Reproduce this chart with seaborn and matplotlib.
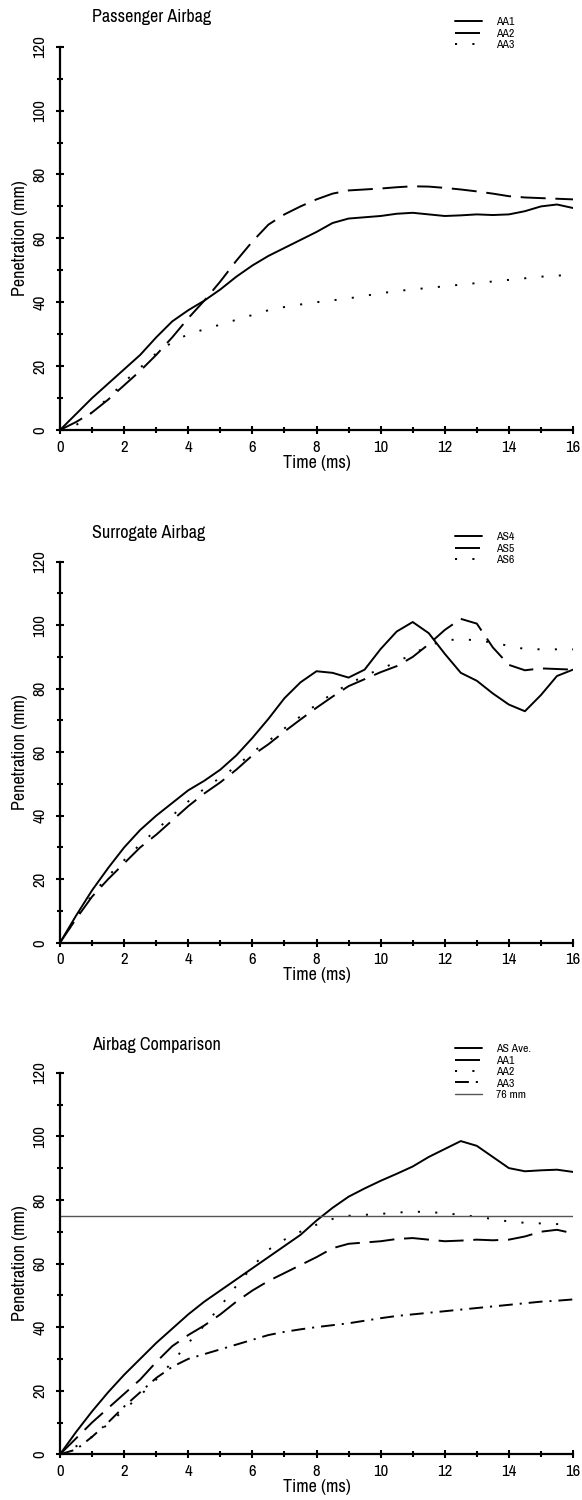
import numpy as np
import pandas as pd
import seaborn as sns
import matplotlib
matplotlib.use("Agg")
import matplotlib.pyplot as plt
from matplotlib import font_manager as fm
from matplotlib.ticker import MultipleLocator

# ---------------- data ----------------
t = [0, 0.5, 1, 1.5, 2, 2.5, 3, 3.5, 4, 4.5, 5, 5.5, 6, 6.5, 7, 7.5, 8,
     8.5, 9, 9.5, 10, 10.5, 11, 11.5, 12, 12.5, 13, 13.5, 14, 14.5, 15, 15.5, 16]

# Passenger airbag
aa1 = [0, 5, 10, 14.5, 19, 23.5, 29, 34, 37.5, 40.5, 44, 48, 51.5, 54.5, 57, 59.5, 62,
       64.8, 66.2, 66.6, 67, 67.7, 68, 67.5, 67, 67.2, 67.5, 67.3, 67.5, 68.5, 70, 70.6, 69.5]
aa2 = [0, 2.5, 5.5, 9.5, 14, 18.5, 23.5, 29, 35, 40.5, 46.5, 53, 59, 64.3, 67.5, 70, 72.2,
       74, 75, 75.3, 75.6, 76, 76.3, 76.2, 75.8, 75.3, 74.7, 74, 73.2, 72.8, 72.6, 72.4, 72.2]
aa3 = [0, 1.5, 5.5, 10, 15, 19.5, 24, 27.5, 30, 31.5, 33, 34.5, 36, 37.5, 38.5, 39.3, 40,
       40.6, 41.2, 42, 42.8, 43.5, 44, 44.5, 45, 45.5, 46, 46.5, 47, 47.5, 48, 48.3, 48.7]

# Surrogate airbag
as4 = [0, 8.5, 16.5, 23.5, 30, 35.5, 40, 44, 48, 51, 54.5, 59, 64.5, 70.5, 77, 82, 85.5,
       85, 83.5, 86, 92.5, 98, 101, 97.5, 91, 85, 82.5, 78.5, 75, 72.9, 78, 84, 86]
as5 = [0, 7.5, 14.5, 20, 25, 30, 34, 38.5, 43, 47, 50.5, 54.5, 59, 62.5, 66.5, 70.3, 74,
       77.5, 80.8, 83, 85.2, 87.1, 90, 94, 98.5, 102, 100.5, 93, 87.5, 85.8, 86.4, 86.2, 86]
as6 = [0, 7.8, 15, 21, 26, 31, 35.5, 40, 44.5, 48.5, 52, 55.5, 60, 63.5, 67.5, 71.3, 75,
       78.5, 81.5, 84, 86.3, 88.3, 91, 93.5, 95.3, 95.5, 95.3, 94.5, 93.5, 92.5, 92.4, 92.4, 92.4]

# Comparison
as_ave = [0, 7, 13.5, 19.5, 25, 30, 35, 39.5, 44, 48, 51.5, 55, 58.5, 62, 65.5, 69, 73.5,
          77.5, 81, 83.6, 86, 88.2, 90.5, 93.5, 96, 98.5, 97, 93.5, 90, 89, 89.3, 89.5, 88.8]
limit_mm = 75
limit_label = "76 mm"

titles = ["Passenger Airbag", "Surrogate Airbag", "Airbag Comparison"]
xlabel = "Time (ms)"
ylabel = "Penetration (mm)"

# ---------------- style ----------------
sns.set_style("ticks")

# pick a narrow / condensed sans font if one is installed
family = ["Liberation Sans", "DejaVu Sans"]
stretch = "normal"
cands = [f for f in fm.fontManager.ttflist
         if ("Narrow" in f.name or "Condensed" in f.name)
         and f.style == "normal" and f.weight in (400, "normal", "regular")]
if cands:
    family = [cands[0].name, "DejaVu Sans"]
else:
    cands = [f for f in fm.fontManager.ttflist
             if f.stretch in ("condensed", "semi-condensed")
             and f.style == "normal" and f.weight in (400, "normal", "regular")]
    if cands:
        family = [cands[0].name, "DejaVu Sans"]
        stretch = cands[0].stretch

plt.rcParams["font.family"] = family
plt.rcParams["font.stretch"] = stretch
plt.rcParams["lines.scale_dashes"] = False
plt.rcParams["text.color"] = "black"
plt.rcParams["axes.labelcolor"] = "black"

SOLID = "-"
DASH = (0, (18, 7))
DOT = (0, (1.5, 11))
DASHDOT = (0, (10, 5, 1.5, 5))

fig = plt.figure(figsize=(5.82, 15), dpi=100)

W = 582.0
H = 1500.0
x0, x1 = 60, 573
panels = [(430, 46.7, 17, 17), (942.7, 561.7, 533, 532), (1454.3, 1072.7, 1045, 1044)]

series = [
    [("AA1", aa1, SOLID), ("AA2", aa2, DASH), ("AA3", aa3, DOT)],
    [("AS4", as4, SOLID), ("AS5", as5, DASH), ("AS6", as6, DOT)],
    [("AS Ave.", as_ave, SOLID), ("AA1", aa1, DASH), ("AA2", aa2, DOT), ("AA3", aa3, DASHDOT)],
]

for i, (yb, yt, ytitle, yleg) in enumerate(panels):
    ax = fig.add_axes([x0 / W, 1 - yb / H, (x1 - x0) / W, (yb - yt) / H])
    for name, vals, ls in series[i]:
        sns.lineplot(x=t, y=vals, ax=ax, color="black", linestyle=ls, lw=1.4,
                     label=name, estimator=None, sort=False)
    if i == 2:
        ax.axhline(limit_mm, color="#555555", lw=1.0, label=limit_label)
    ax.set_xlim(0, 16)
    ax.set_ylim(0, 120)
    ax.xaxis.set_major_locator(MultipleLocator(2))
    ax.xaxis.set_minor_locator(MultipleLocator(1))
    ax.yaxis.set_major_locator(MultipleLocator(20))
    ax.yaxis.set_minor_locator(MultipleLocator(10))
    for s in ["top", "right"]:
        ax.spines[s].set_visible(False)
    for s in ["left", "bottom"]:
        ax.spines[s].set_linewidth(1.6)
        ax.spines[s].set_color("black")
    ax.tick_params(which="both", direction="inout", width=1.5, color="black",
                   labelsize=12, labelcolor="black")
    ax.tick_params(which="major", length=6)
    ax.tick_params(which="minor", length=5)
    ax.tick_params(axis="x", pad=4)
    ax.tick_params(axis="y", pad=6)
    for lab in ax.get_yticklabels():
        lab.set_rotation(90)
        lab.set_va("center")
    ax.set_xlabel(xlabel, fontsize=13, labelpad=0)
    ax.set_ylabel(ylabel, fontsize=13, labelpad=3)
    fig.text(92 / W, 1 - ytitle / H, titles[i], fontsize=13, ha="left", va="center")
    leg = ax.legend(loc="upper left", bbox_to_anchor=(455 / W, 1 - yleg / H),
                    bbox_transform=fig.transFigure, frameon=False, fontsize=8.5,
                    handlelength=2.3, handletextpad=1.2, labelspacing=0.1,
                    borderpad=0, borderaxespad=0)

fig.savefig("out.png", dpi=100)
